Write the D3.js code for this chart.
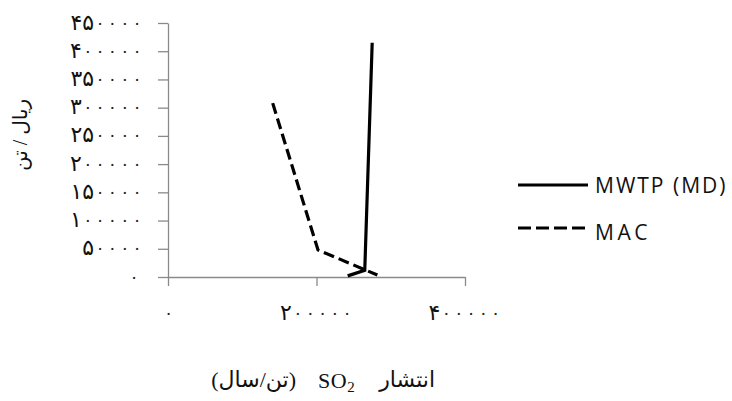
<!DOCTYPE html>
<html>
<head>
<meta charset="utf-8">
<script src="https://cdn.jsdelivr.net/npm/d3@7"></script>
<style>
  html, body { margin: 0; padding: 0; background: #fff; }
  svg { display: block; }
</style>
</head>
<body>
<svg id="chart" width="732" height="401"></svg>
<script>
// ---- data ----
const seriesNames = ["MWTP (MD)", "MAC"];
const mwtpX = [242000, 265000, 275000];
const mwtpY = [2000, 12000, 415000];
const macX = [141000, 202000, 282000];
const macY = [308000, 48000, 3500];
const xTicks = [0, 200000, 400000];
const yTicks = [0, 50000, 100000, 150000, 200000, 250000, 300000, 350000, 400000, 450000];
const xTitleParts = ["انتشار", "SO", "2", "(تن/سال)"];
const yTitle = "ریال / تن";

const faDigits = "۰۱۲۳۴۵۶۷۸۹";
const fa = s => String(s).replace(/\d/g, d => faDigits[+d]);

const svg = d3.select("#chart");
const x = d3.scaleLinear().domain([0, 400000]).range([168, 465]);
const y = d3.scaleLinear().domain([0, 450000]).range([277, 23]);

const axisColor = "#8a8a8a";
const digitFont = "'DejaVu Sans', sans-serif";
const zeroStep = 12.3;
const digitW = 11;

function splitNum(d) {
  const s = String(d);
  const m = s.match(/^(.*?[1-9])?(0*)$/);
  return { lead: m[1] || "", zeros: (m[2] || "").length };
}

// draw label pieces inside a tick group; rightDot = centre of last zero dot
function drawLabel(g, d, rightDot, ty) {
  const { lead, zeros } = splitNum(d);
  const firstDot = rightDot - zeroStep * (zeros - 1);
  for (let k = 0; k < zeros; k++) {
    g.append("text").attr("x", firstDot + k * zeroStep).attr("y", ty)
      .attr("text-anchor", "middle").attr("font-family", digitFont).attr("font-size", 17)
      .attr("fill", "#222").text(fa("0"));
  }
  if (lead) {
    g.append("text").attr("x", firstDot - 6).attr("y", ty + 1)
      .attr("text-anchor", "end").attr("font-family", digitFont).attr("font-size", 22)
      .attr("fill", "#111").text(fa(lead));
  }
}

// y axis
const gy = svg.append("g").attr("transform", `translate(${x(0)},0)`)
  .call(d3.axisLeft(y).tickValues(yTicks).tickSize(10).tickSizeOuter(0).tickFormat(""));
gy.select(".domain").attr("stroke", axisColor).attr("stroke-width", 1.3);
gy.selectAll(".tick line").attr("stroke", axisColor).attr("stroke-width", 1.3);
gy.selectAll(".tick text").remove();
gy.selectAll(".tick").each(function(d) {
  drawLabel(d3.select(this), d, d === 0 ? -34 : -31, 5);
});

// x axis
const gx = svg.append("g").attr("transform", `translate(0,${y(0)})`)
  .call(d3.axisBottom(x).tickValues(xTicks).tickSize(9).tickSizeOuter(0).tickFormat(""));
gx.select(".domain").attr("stroke", axisColor).attr("stroke-width", 1.3);
gx.selectAll(".tick line").attr("stroke", axisColor).attr("stroke-width", 1.3);
gx.selectAll(".tick text").remove();
gx.selectAll(".tick").each(function(d) {
  const { lead, zeros } = splitNum(d);
  const width = lead.length * digitW + 6 + zeroStep * (zeros - 1);
  const rightDot = zeros === 1 && !lead ? 0 : width / 2 - 3;
  drawLabel(d3.select(this), d, rightDot, 42);
});

// lines
const line = d3.line().x(d => x(d[0])).y(d => y(d[1]));
const mwtp = mwtpX.map((v, i) => [v, mwtpY[i]]);
const mac = macX.map((v, i) => [v, macY[i]]);

svg.append("path").datum(mac).attr("d", line)
  .attr("fill", "none").attr("stroke", "#000").attr("stroke-width", 3.2)
  .attr("stroke-dasharray", "11,5");
svg.append("path").datum(mwtp).attr("d", line)
  .attr("fill", "none").attr("stroke", "#000").attr("stroke-width", 3.2);

// legend
const legend = svg.append("g");
const legY = [185, 228];
const textBase = [193, 240];
const dashes = [null, "13,5"];
const spacing = ["2px", "3.5px"];
seriesNames.forEach((name, i) => {
  legend.append("line").attr("x1", 518).attr("x2", 588).attr("y1", legY[i]).attr("y2", legY[i])
    .attr("stroke", "#000").attr("stroke-width", 3.2).attr("stroke-dasharray", dashes[i]);
  legend.append("text").attr("x", 595).attr("y", textBase[i])
    .attr("font-family", "'Open Sans', 'Liberation Sans', sans-serif").attr("font-size", 21)
    .style("letter-spacing", spacing[i]).attr("fill", "#111").text(name);
});

// x title (placed piece by piece, right to left)
const titleFont = "'Liberation Serif', 'DejaVu Sans', serif";
svg.append("text").attr("x", 435).attr("y", 387).attr("text-anchor", "end")
  .attr("font-family", titleFont).attr("font-size", 22).attr("fill", "#111").text(xTitleParts[0]);
const so = svg.append("text").attr("x", 318).attr("y", 388).attr("text-anchor", "start")
  .attr("font-family", titleFont).attr("font-size", 22).style("letter-spacing", "0.5px").attr("fill", "#111");
so.append("tspan").text(xTitleParts[1]);
so.append("tspan").attr("dy", 4).attr("font-size", 15).text(xTitleParts[2]);
svg.append("text").attr("x", 296).attr("y", 387).attr("text-anchor", "end")
  .attr("font-family", titleFont).attr("font-size", 22).attr("fill", "#111").text(xTitleParts[3]);

// y title
svg.append("text").attr("transform", "translate(27,135) rotate(-90)")
  .attr("text-anchor", "middle")
  .attr("font-family", titleFont).attr("font-size", 20).attr("fill", "#111")
  .text(yTitle);
</script>
</body>
</html>
